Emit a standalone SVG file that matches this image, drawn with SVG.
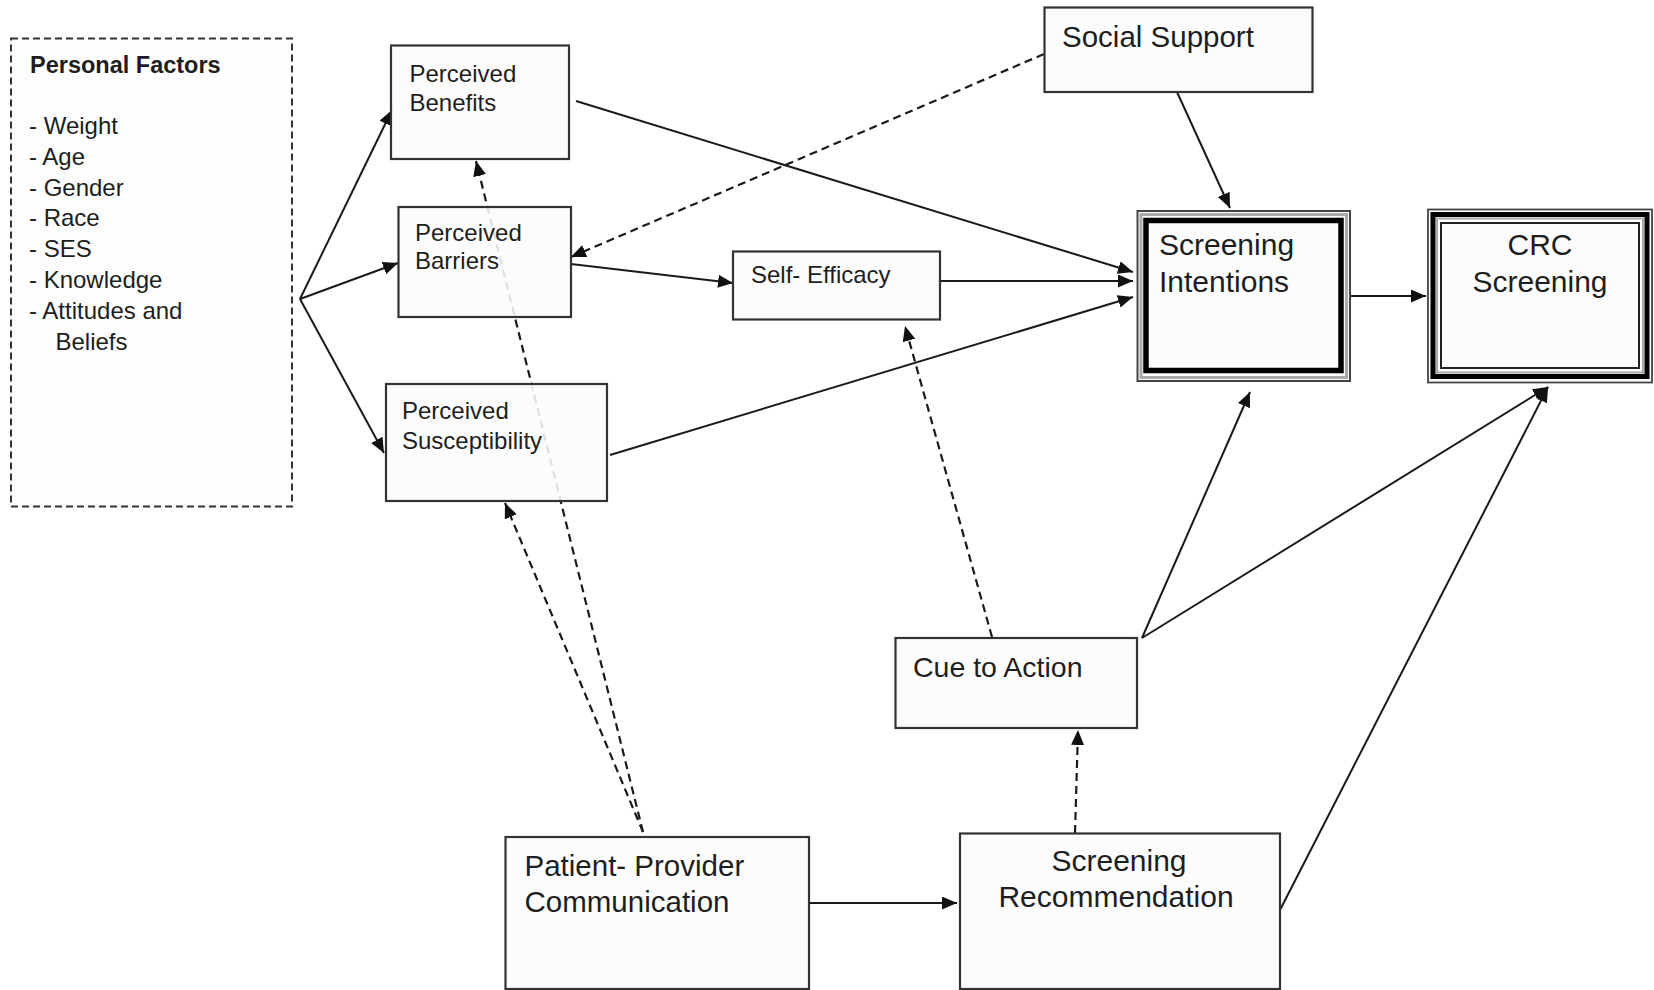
<svg xmlns="http://www.w3.org/2000/svg" width="1654" height="990" viewBox="0 0 1654 990">
<defs>
<style>
.t{font-family:"Liberation Sans",Arial,sans-serif;fill:#1e1e1e}
.s24{font-size:24px}
.s29{font-size:29.5px}
.s30{font-size:30px}
.b{font-weight:bold}
.box{fill:#fcfcfc;fill-opacity:0.88;stroke:#333;stroke-width:2.2}
.ln{fill:none;stroke:#1a1a1a;stroke-width:2}
.dl{fill:none;stroke:#1a1a1a;stroke-width:2.2;stroke-dasharray:8,5}
</style>
<marker id="ah" markerUnits="userSpaceOnUse" markerWidth="16" markerHeight="14" refX="15" refY="6.5" orient="auto">
<path d="M0,0 L15,6.5 L0,13 z" fill="#111"/>
</marker>
</defs>
<rect width="1654" height="990" fill="#fff"/>
<g id="connectors">
<path class="ln" d="M300,299 L392,110" marker-end="url(#ah)"/>
<path class="ln" d="M300,299 L398,263" marker-end="url(#ah)"/>
<path class="ln" d="M300,299 L384,453" marker-end="url(#ah)"/>
<path class="ln" d="M576,101 L1133,272" marker-end="url(#ah)"/>
<path class="ln" d="M938,281 L1133,281" marker-end="url(#ah)"/>
<path class="ln" d="M610,455 L1133,297" marker-end="url(#ah)"/>
<path class="ln" d="M571,264 L733,283" marker-end="url(#ah)"/>
<path class="dl" d="M1044,54 L571,257" marker-end="url(#ah)"/>
<path class="ln" d="M1177,92 L1230,208" marker-end="url(#ah)"/>
<path class="dl" d="M643,832 L476,161" marker-end="url(#ah)"/>
<path class="dl" d="M643,832 L505,503" marker-end="url(#ah)"/>
<path class="dl" d="M992,637 L905,326" marker-end="url(#ah)"/>
<path class="ln" d="M1142,638 L1250,392" marker-end="url(#ah)"/>
<path class="ln" d="M1142,638 L1548,387" marker-end="url(#ah)"/>
<path class="ln" d="M1280,910 L1548,387" marker-end="url(#ah)"/>
<path class="ln" d="M1350,296 L1426,296" marker-end="url(#ah)"/>
<path class="ln" d="M809,903 L957,903" marker-end="url(#ah)"/>
<path class="dl" d="M1075,833 L1078,730" marker-end="url(#ah)"/>
</g>
<g id="personal-factors">
<rect x="11" y="38.5" width="281" height="468" fill="#fdfdfd" stroke="#333" stroke-width="2" stroke-dasharray="7,4"/>
<text class="t b" x="30" y="73" font-size="23.5px">Personal Factors</text>
<text class="t s24" x="29" y="134">- Weight</text>
<text class="t s24" x="29" y="165">- Age</text>
<text class="t s24" x="29" y="195.6">- Gender</text>
<text class="t s24" x="29" y="226.4">- Race</text>
<text class="t s24" x="29" y="257.2">- SES</text>
<text class="t s24" x="29" y="288">- Knowledge</text>
<text class="t s24" x="29" y="318.8">- Attitudes and</text>
<text class="t s24" x="55.5" y="349.6">Beliefs</text>
</g>
<g id="perceived-benefits">
<rect class="box" x="391" y="45.5" width="178" height="113.5"/>
<text class="t s24" x="409.5" y="81.7">Perceived</text>
<text class="t s24" x="409.5" y="111">Benefits</text>
</g>
<g id="perceived-barriers">
<rect class="box" x="398.5" y="207" width="172.5" height="110"/>
<text class="t s24" x="415" y="240.7">Perceived</text>
<text class="t s24" x="415" y="269.3">Barriers</text>
</g>
<g id="perceived-susceptibility">
<rect class="box" x="386" y="384" width="221" height="117"/>
<text class="t s24" x="402" y="419.3">Perceived</text>
<text class="t s24" x="402" y="448.5">Susceptibility</text>
</g>
<g id="self-efficacy">
<rect class="box" x="733" y="251.5" width="207" height="68"/>
<text class="t s24" x="751" y="283">Self- Efficacy</text>
</g>
<g id="social-support">
<rect class="box" x="1044.5" y="7.5" width="268" height="84.5"/>
<text class="t s29" x="1062" y="47">Social Support</text>
</g>
<g id="screening-intentions">
<rect x="1137.5" y="211" width="212.5" height="170" fill="#fcfcfc" stroke="#444" stroke-width="2"/>
<rect x="1141" y="214.5" width="205.5" height="163" fill="none" stroke="#aaa" stroke-width="3"/>
<rect x="1146" y="220.5" width="195" height="150" fill="none" stroke="#000" stroke-width="5.5"/>
<text class="t s30" x="1159" y="255">Screening</text>
<text class="t s30" x="1159" y="292">Intentions</text>
</g>
<g id="crc-screening">
<rect x="1428" y="209.5" width="224" height="173" fill="#fcfcfc" stroke="#444" stroke-width="1.8"/>
<rect x="1433" y="214.5" width="214" height="162" fill="none" stroke="#000" stroke-width="5"/>
<rect x="1437" y="218.5" width="206" height="154" fill="none" stroke="#aaa" stroke-width="2"/>
<rect x="1441" y="223" width="198" height="145" fill="none" stroke="#222" stroke-width="2"/>
<text class="t s30" x="1540" y="255" text-anchor="middle">CRC</text>
<text class="t s30" x="1540" y="292" text-anchor="middle">Screening</text>
</g>
<g id="cue-to-action">
<rect class="box" x="895.5" y="638" width="241.5" height="90"/>
<text class="t" x="913" y="677" font-size="28.5px">Cue to Action</text>
</g>
<g id="patient-provider-communication">
<rect class="box" x="505.5" y="837" width="303.5" height="152"/>
<text class="t s29" x="524.5" y="876">Patient- Provider</text>
<text class="t s29" x="524.5" y="911.7">Communication</text>
</g>
<g id="screening-recommendation">
<rect class="box" x="960" y="833.5" width="320" height="155.5"/>
<text class="t s30" x="1119" y="871" text-anchor="middle">Screening</text>
<text class="t s30" x="1116" y="907" text-anchor="middle">Recommendation</text>
</g>
</svg>
